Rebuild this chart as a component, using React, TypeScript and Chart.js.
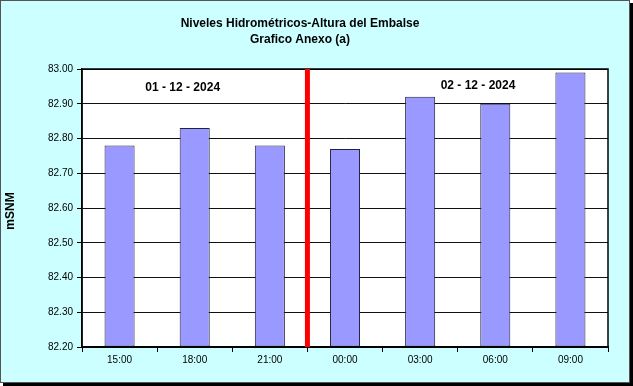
import React, { useEffect, useRef } from 'react';
import { Chart, registerables } from 'chart.js';

Chart.register(...registerables);

const categories = ['15:00', '18:00', '21:00', '00:00', '03:00', '06:00', '09:00'];
const levels = [82.78, 82.83, 82.78, 82.77, 82.92, 82.9, 82.99];
const yMin = 82.2;
const yMax = 83.0;
const yStep = 0.1;
const titleLines = ['Niveles Hidrométricos-Altura del Embalse', 'Grafico Anexo (a)'];
const yTitle = 'mSNM';
const dayLabels = ['01 - 12 - 2024', '02 - 12 - 2024'];
const dayLabelX = [0.84, 4.77];
const dayLabelY = [82.945, 82.952];
const dayDivider = 2.5;

const W = 633;
const H = 386;

const decorPlugin = {
  id: 'decor',
  beforeDraw(chart: any) {
    const ctx = chart.ctx;
    const a = chart.chartArea;
    ctx.save();
    ctx.fillStyle = '#ffffff';
    ctx.fillRect(0, 0, W, H);
    // shadow
    ctx.fillStyle = '#000000';
    ctx.fillRect(630, 3, 3, H - 3);
    ctx.fillRect(3, 383, W - 3, 3);
    // background
    ctx.fillStyle = '#CCFFFF';
    ctx.fillRect(0, 0, 630, 383);
    ctx.strokeStyle = '#555555';
    ctx.lineWidth = 1;
    ctx.strokeRect(0.5, 0.5, 629, 382);
    // plot area
    ctx.fillStyle = '#ffffff';
    ctx.fillRect(a.left, a.top, a.right - a.left, a.bottom - a.top);
    // titles
    ctx.fillStyle = '#000000';
    ctx.textAlign = 'center';
    ctx.textBaseline = 'middle';
    ctx.font = 'bold 12px Arial, "Liberation Sans", sans-serif';
    ctx.fillText(titleLines[0], 300, 24);
    ctx.fillText(titleLines[1], 300, 40);
    // y title
    ctx.save();
    ctx.translate(11, (a.top + a.bottom) / 2 + 3);
    ctx.rotate(-Math.PI / 2);
    ctx.fillText(yTitle, 0, 0);
    ctx.restore();
    ctx.restore();
  },
  afterDatasetsDraw(chart: any) {
    const ctx = chart.ctx;
    const a = chart.chartArea;
    const xs = chart.scales.x;
    const ys = chart.scales.y;
    ctx.save();
    // plot border
    ctx.strokeStyle = '#000000';
    ctx.lineWidth = 1.5;
    ctx.strokeRect(a.left, a.top, a.right - a.left, a.bottom - a.top);
    // divider
    const dx = xs.getPixelForValue(dayDivider);
    ctx.strokeStyle = '#FF0000';
    ctx.lineWidth = 5;
    ctx.beginPath();
    ctx.moveTo(dx, a.top);
    ctx.lineTo(dx, a.bottom);
    ctx.stroke();
    // day labels
    ctx.fillStyle = '#000000';
    ctx.font = 'bold 12px Arial, "Liberation Sans", sans-serif';
    ctx.textAlign = 'center';
    ctx.textBaseline = 'middle';
    dayLabels.forEach((t, i) => {
      ctx.fillText(t, xs.getPixelForValue(dayLabelX[i]), ys.getPixelForValue(dayLabelY[i]));
    });
    ctx.restore();
  },
};

export default function App() {
  const ref = useRef<HTMLCanvasElement>(null);
  useEffect(() => {
    document.body.style.margin = '0';
    const canvas = ref.current;
    if (!canvas) return;
    const chart = new Chart(canvas, {
      type: 'bar',
      data: {
        labels: categories,
        datasets: [
          {
            data: levels,
            backgroundColor: '#9999FF',
            borderColor: '#222244',
            borderWidth: 1,
            borderSkipped: false,
            barPercentage: 0.4,
            categoryPercentage: 1,
            base: yMin,
          },
        ],
      },
      options: {
        responsive: false,
        animation: false,
        devicePixelRatio: 1,
        layout: { padding: { top: 69, left: 0, right: 25, bottom: 9 } },
        plugins: {
          legend: { display: false },
          title: { display: false },
          tooltip: { enabled: false },
        },
        scales: {
          x: {
            type: 'category',
            afterFit(scale: any) {
              scale.height = 30;
            },
            grid: {
              offset: true,
              drawOnChartArea: false,
              drawTicks: true,
              tickLength: 5,
              tickColor: '#000000',
            },
            border: { display: true, color: '#000000', width: 1.5 },
            ticks: {
              color: '#000000',
              padding: 2,
              font: { family: 'Arial, "Liberation Sans", sans-serif', size: 10 },
              maxRotation: 0,
            },
          },
          y: {
            min: yMin,
            max: yMax,
            afterFit(scale: any) {
              scale.width = 82;
            },
            grid: {
              color: '#111111',
              lineWidth: 1,
              drawTicks: true,
              tickLength: 5,
              tickColor: '#000000',
            },
            border: { display: true, color: '#000000', width: 1.5 },
            ticks: {
              stepSize: yStep,
              color: '#000000',
              padding: 4,
              font: { family: 'Arial, "Liberation Sans", sans-serif', size: 10 },
              callback: (v: any) => Number(v).toFixed(2),
            },
          },
        },
      },
      plugins: [decorPlugin],
    });
    return () => chart.destroy();
  }, []);
  return (
    <div style={{ width: W, height: H }}>
      <canvas ref={ref} width={W} height={H} style={{ display: 'block' }} />
    </div>
  );
}
